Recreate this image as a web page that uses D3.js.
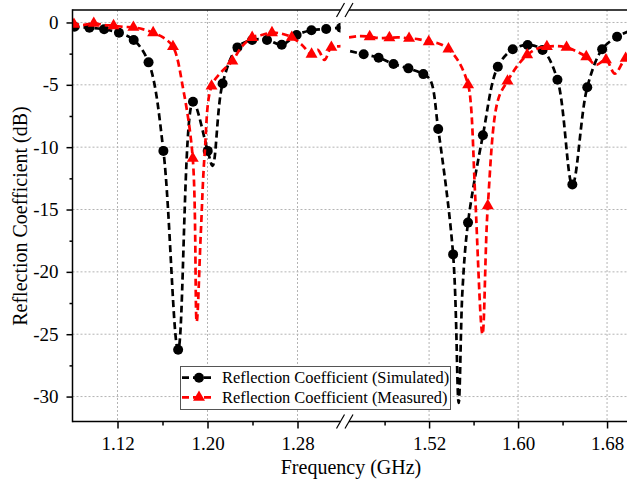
<!DOCTYPE html>
<html>
<head>
<meta charset="utf-8">
<script src="https://cdn.jsdelivr.net/npm/d3@7"></script>
<style>
  body { margin: 0; background: #fff; }
  svg text { font-family: "Liberation Serif", "Times New Roman", serif; fill: #000; }
</style>
</head>
<body>
<div id="container"></div>
<script>
/* DATA */
// simulated curve (GHz, dB)
const simFreq = [1.0800, 1.0818, 1.0950, 1.1081, 1.1213, 1.1344, 1.1476, 1.1608, 1.1739, 1.1871, 1.2002, 1.2045,
  1.2134, 1.2266, 1.2397, 1.2529, 1.2660, 1.2792, 1.2924, 1.3055, 1.3187, 1.3250,
  1.4490, 1.4612, 1.4746, 1.4880, 1.5014, 1.5148, 1.5210, 1.5282, 1.5416, 1.5466, 1.5500, 1.5550,
  1.5684, 1.5818, 1.5952, 1.6086, 1.6220, 1.6354, 1.6488, 1.6622, 1.6756, 1.6890, 1.7000];
const simDb = [-0.30, -0.34, -0.42, -0.55, -0.82, -1.40, -3.20, -10.3, -26.25, -6.36, -10.3, -11.5,
  -4.90, -2.00, -1.40, -1.40, -1.78, -1.00, -0.62, -0.52, -0.42, -0.40,
  -2.30, -2.55, -2.83, -3.33, -3.68, -4.14, -4.60, -8.55, -18.6, -30.5, -21.5, -16.05,
  -9.04, -3.55, -2.15, -1.81, -2.20, -4.60, -13.0, -5.20, -2.15, -1.14, -0.70];
// simulated markers
const simMarkFreq = [1.0818, 1.0950, 1.1081, 1.1213, 1.1344, 1.1476, 1.1608, 1.1739, 1.1871, 1.2002, 1.2134,
  1.2266, 1.2397, 1.2529, 1.2660, 1.2792, 1.2924, 1.3055, 1.3187,
  1.4612, 1.4746, 1.4880, 1.5014, 1.5148, 1.5282, 1.5416, 1.5550, 1.5684, 1.5818, 1.5952, 1.6086,
  1.6220, 1.6354, 1.6488, 1.6622, 1.6756, 1.6890];
const simMarkDb = [-0.34, -0.42, -0.55, -0.82, -1.40, -3.20, -10.3, -26.25, -6.36, -10.3, -4.90,
  -2.00, -1.40, -1.40, -1.78, -1.00, -0.62, -0.52, -0.42,
  -2.55, -2.83, -3.33, -3.68, -4.14, -8.55, -18.6, -16.05, -9.04, -3.55, -2.15, -1.81,
  -2.20, -4.60, -13.0, -5.20, -2.15, -1.14];

// measured curve (GHz, dB)
const measFreq = [1.0800, 1.0813, 1.0900, 1.0989, 1.1080, 1.1165, 1.1250, 1.1341, 1.1430, 1.1517, 1.1605, 1.1693,
  1.1785, 1.1869, 1.1904, 1.1940, 1.1975, 1.2036, 1.2130, 1.2221, 1.2300, 1.2397, 1.2480, 1.2573,
  1.2660, 1.2749, 1.2840, 1.2925, 1.2980, 1.3040, 1.3101, 1.3190, 1.3250,
  1.4480, 1.4570, 1.4666, 1.4750, 1.4843, 1.4930, 1.5020, 1.5110, 1.5197, 1.5290, 1.5374, 1.5470,
  1.5551, 1.5575, 1.5616, 1.5680, 1.5728, 1.5820, 1.5905, 1.6000, 1.6082, 1.6170, 1.6259, 1.6350,
  1.6436, 1.6520, 1.6613, 1.6700, 1.6790, 1.6870, 1.6967, 1.7020];
const measDb = [-0.25, -0.15, -0.20, -0.07, -0.20, -0.26, -0.35, -0.39, -0.55, -0.82, -1.20, -1.94,
  -5.40, -10.9, -24.0, -17.0, -10.5, -5.10, -3.90, -3.10, -2.00, -1.20, -1.00, -0.82,
  -0.90, -1.19, -1.80, -2.55, -2.20, -3.00, -2.00, -1.90, -1.80,
  -1.19, -1.10, -1.14, -1.25, -1.22, -1.20, -1.27, -1.35, -1.54, -1.70, -2.13, -3.20,
  -5.00, -6.50, -14.2, -25.0, -14.7, -6.20, -4.70, -3.40, -2.60, -2.10, -1.94, -1.90,
  -2.00, -2.30, -2.75, -3.40, -3.00, -4.10, -2.88, -2.80];
// measured markers
const measMarkFreq = [1.0813, 1.0989, 1.1165, 1.1341, 1.1517, 1.1693, 1.1869, 1.2036, 1.2221, 1.2397, 1.2573,
  1.2749, 1.2925, 1.3101,
  1.4666, 1.4843, 1.5020, 1.5197, 1.5374, 1.5551, 1.5728, 1.5905, 1.6082, 1.6259, 1.6436, 1.6613,
  1.6790, 1.6967];
const measMarkDb = [-0.15, -0.07, -0.26, -0.39, -0.82, -1.94, -10.9, -5.10, -3.10, -1.20, -0.82,
  -1.19, -2.55, -2.00,
  -1.14, -1.22, -1.27, -1.54, -2.13, -5.00, -14.7, -4.70, -2.60, -1.94, -2.00, -2.75,
  -3.00, -2.88];

// ticks
const leftMajor = [1.12, 1.20, 1.28];
const leftMinor = [1.16, 1.24];
const rightMajor = [1.52, 1.60, 1.68];
const rightMinor = [1.48, 1.56, 1.64];
const yMajor = [0, -5, -10, -15, -20, -25, -30];
const yMinor = [-2.5, -7.5, -12.5, -17.5, -22.5, -27.5];
const legendLabels = ["Reflection Coefficient (Simulated)", "Reflection Coefficient (Measured)"];

/* CONSTANTS */
const width = 627, height = 482;
const plotLeft = 72.5, plotTop = 10, plotBottom = 421.5, plotRight = 627;
const breakL = 340.5, breakR = 349;

/* SCALES */
const xLeft = d3.scaleLinear().domain([1.08, 1.32]).range([plotLeft, 342.5]);
const xRight = d3.scaleLinear().domain([1.448, 1.70]).range([breakR, 629.3]);
const y = d3.scaleLinear().domain([-32, 1]).range([plotBottom, plotTop]);

const segments = [
  { id: "segL", x: xLeft, lo: 1.0, hi: 1.38, x0: plotLeft, x1: breakL, major: leftMajor, minor: leftMinor },
  { id: "segR", x: xRight, lo: 1.38, hi: 2.0, x0: breakR, x1: plotRight, major: rightMajor, minor: rightMinor }
];

const sim = simFreq.map((f, i) => ({ f, v: simDb[i] }));
const simMarks = simMarkFreq.map((f, i) => ({ f, v: simMarkDb[i] }));
const meas = measFreq.map((f, i) => ({ f, v: measDb[i] }));
const measMarks = measMarkFreq.map((f, i) => ({ f, v: measMarkDb[i] }));

/* SVG */
const svg = d3.select("#container")
  .append("svg")
  .attr("width", width)
  .attr("height", height);

const defs = svg.append("defs");
segments.forEach(s => {
  defs.append("clipPath").attr("id", s.id)
    .append("rect")
    .attr("x", s.x0).attr("y", plotTop)
    .attr("width", s.x1 - s.x0).attr("height", plotBottom - plotTop);
});

// grid
const grid = svg.append("g")
  .attr("stroke", "#b4b4b4")
  .attr("stroke-width", 1)
  .attr("stroke-dasharray", "2,2");
grid.selectAll("line.h")
  .data(yMajor)
  .join("line")
  .attr("class", "h")
  .attr("x1", plotLeft).attr("x2", plotRight)
  .attr("y1", d => y(d)).attr("y2", d => y(d));
segments.forEach(s => {
  grid.selectAll("line.v-" + s.id)
    .data(s.major)
    .join("line")
    .attr("class", "v-" + s.id)
    .attr("x1", d => s.x(d)).attr("x2", d => s.x(d))
    .attr("y1", plotTop).attr("y2", plotBottom);
});

// curves
const series = [
  { line: sim, marks: simMarks, color: "#000000", shape: "circle" },
  { line: meas, marks: measMarks, color: "#ff0000", shape: "triangle" }
];
const triangle = d3.symbol().type(d3.symbolTriangle).size(62);

series.forEach(ser => {
  segments.forEach(s => {
    const g = svg.append("g").attr("clip-path", `url(#${s.id})`);
    const pts = ser.line.filter(d => d.f >= s.lo && d.f < s.hi);
    const line = d3.line()
      .x(d => s.x(d.f))
      .y(d => y(d.v))
      .curve(d3.curveCatmullRom.alpha(0.5));
    g.append("path")
      .datum(pts)
      .attr("fill", "none")
      .attr("stroke", ser.color)
      .attr("stroke-width", 2.7)
      .attr("stroke-dasharray", "7,4")
      .attr("d", line);

    const mk = ser.marks.filter(d => d.f >= s.lo && d.f < s.hi);
    if (ser.shape === "circle") {
      g.selectAll("circle")
        .data(mk)
        .join("circle")
        .attr("cx", d => s.x(d.f))
        .attr("cy", d => y(d.v))
        .attr("r", 5)
        .attr("fill", ser.color);
    } else {
      g.selectAll("path.mk")
        .data(mk)
        .join("path")
        .attr("class", "mk")
        .attr("d", triangle)
        .attr("transform", d => `translate(${s.x(d.f)},${y(d.v)})`)
        .attr("fill", ser.color);
    }
  });
});

// x axes (two segments)
segments.forEach(s => {
  const ax = svg.append("g")
    .attr("transform", `translate(0, ${plotBottom})`)
    .call(d3.axisBottom(s.x).tickValues(s.major).tickSize(7).tickPadding(8)
      .tickFormat(d3.format(".2f")));
  ax.select(".domain").remove();
  ax.selectAll("text").style("font-size", "19px");
  ax.selectAll("line").attr("stroke-width", 1.5);

  const axm = svg.append("g")
    .attr("transform", `translate(0, ${plotBottom})`)
    .call(d3.axisBottom(s.x).tickValues(s.minor).tickSize(4).tickFormat(""));
  axm.select(".domain").remove();
  axm.selectAll("line").attr("stroke-width", 1.5);
});

// y axis
const yAx = svg.append("g")
  .attr("transform", `translate(${plotLeft}, 0)`)
  .call(d3.axisLeft(y).tickValues(yMajor).tickSize(6).tickPadding(8).tickFormat(d => String(d)));
yAx.select(".domain").remove();
yAx.selectAll("text").style("font-size", "19px");
yAx.selectAll("line").attr("stroke-width", 1.5);
const yAxm = svg.append("g")
  .attr("transform", `translate(${plotLeft}, 0)`)
  .call(d3.axisLeft(y).tickValues(yMinor).tickSize(3).tickFormat(""));
yAxm.select(".domain").remove();
yAxm.selectAll("line").attr("stroke-width", 1.5);

// frame lines with the break
const frame = svg.append("g").attr("stroke", "#000").attr("stroke-width", 1.5).attr("fill", "none");
frame.append("line").attr("x1", plotLeft).attr("x2", plotLeft).attr("y1", plotTop - 0.75).attr("y2", plotBottom + 0.75);
[plotTop, plotBottom].forEach(yy => {
  frame.append("line").attr("x1", plotLeft).attr("x2", breakL).attr("y1", yy).attr("y2", yy);
  frame.append("line").attr("x1", breakR).attr("x2", plotRight).attr("y1", yy).attr("y2", yy);
  [breakL, breakR].forEach(bx => {
    frame.append("line")
      .attr("x1", bx - 4).attr("y1", yy + 7)
      .attr("x2", bx + 4).attr("y2", yy - 7)
      .attr("stroke-width", 1.2);
  });
});

// axis titles
svg.append("text")
  .attr("x", 351)
  .attr("y", 474)
  .attr("text-anchor", "middle")
  .style("font-size", "20px")
  .text("Frequency (GHz)");

svg.append("text")
  .attr("transform", "rotate(-90)")
  .attr("x", -216)
  .attr("y", 27)
  .attr("text-anchor", "middle")
  .style("font-size", "20px")
  .text("Reflection Coefficient (dB)");

// legend
const legend = svg.append("g");
legend.append("rect")
  .attr("x", 180.5).attr("y", 366.5)
  .attr("width", 270).attr("height", 43)
  .attr("fill", "#fff")
  .attr("stroke", "#555")
  .attr("stroke-width", 1);

const legRows = [
  { label: legendLabels[0], color: "#000000", shape: "circle", yy: 377.7 },
  { label: legendLabels[1], color: "#ff0000", shape: "triangle", yy: 397.3 }
];
legRows.forEach(r => {
  legend.append("line")
    .attr("x1", 182).attr("x2", 214)
    .attr("y1", r.yy).attr("y2", r.yy)
    .attr("stroke", r.color)
    .attr("stroke-width", 2.7)
    .attr("stroke-dasharray", "7,4");
  if (r.shape === "circle") {
    legend.append("circle").attr("cx", 199).attr("cy", r.yy).attr("r", 5).attr("fill", r.color);
  } else {
    legend.append("path").attr("d", triangle).attr("transform", `translate(199,${r.yy})`).attr("fill", r.color);
  }
  legend.append("text")
    .attr("x", 222)
    .attr("y", r.yy)
    .attr("dy", "0.35em")
    .style("font-size", "16.4px")
    .text(r.label);
});
</script>
</body>
</html>
